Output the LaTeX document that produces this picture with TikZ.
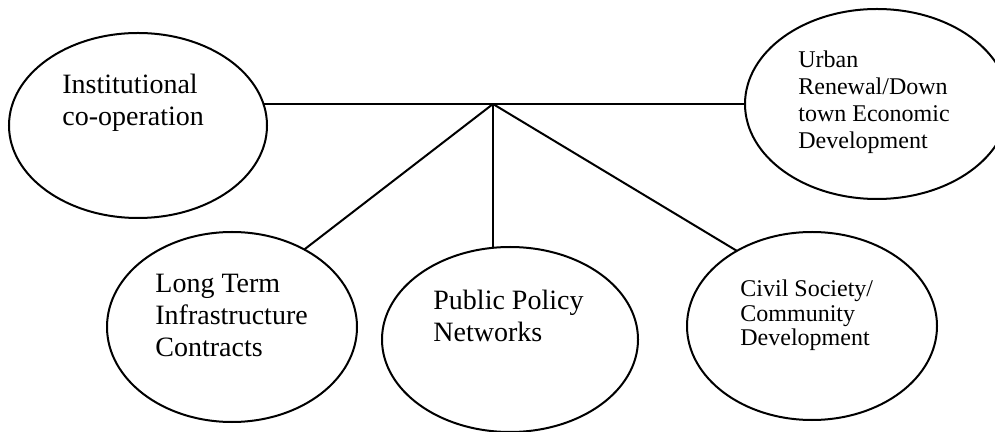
\documentclass[tikz,border=0pt]{standalone}
\usepackage{fontspec}
\setmainfont{Liberation Serif}
\usetikzlibrary{shapes.geometric}
% left-aligned multi-line label whose baseline is that of its first line
\newcommand\stacklines[1]{\begin{tabular}[t]{@{}l@{}}#1\end{tabular}}
\begin{document}
\begin{tikzpicture}[x=0.5pt,y=-0.5pt,
  bubble/.style={ellipse, draw, line width=1pt, inner sep=0pt, outer sep=0pt},
  bigtext/.style={anchor=base west, inner sep=0pt, font=\fontsize{14}{16}\selectfont},
  smalltext/.style={anchor=base west, inner sep=0pt, font=\fontsize{12}{13.5}\selectfont},
  link/.style={line width=1pt}]
\fill[white] (0,0) rectangle (995,432);
\useasboundingbox (0,0) rectangle (995,432);

% the five bubbles
\node[bubble, minimum width=129pt, minimum height=92.5pt] (inst) at (138,125.5) {};
\node[bubble, minimum width=132pt, minimum height=95pt] (urb) at (877,104) {};
\node[bubble, minimum width=125pt, minimum height=95pt] (lt) at (232,327) {};
\node[bubble, minimum width=128pt, minimum height=92.5pt] (pp) at (510,339.5) {};
\node[bubble, minimum width=125pt, minimum height=94pt] (cs) at (812,326) {};

% their labels
\node[bigtext] (instlabel) at (62,94) {\stacklines{Institutional\\co-operation}};
\node[smalltext] (urblabel) at (798,68) {\stacklines{Urban\\Renewal/Down\\town Economic\\Development}};
\node[bigtext] (ltlabel) at (155,293) {\stacklines{Long Term\\Infrastructure\\Contracts}};
\node[bigtext] (pplabel) at (433,310) {\stacklines{Public Policy\\Networks}};
\node[smalltext, font=\fontsize{12}{12.25}\selectfont] (cslabel) at (740,297) {\stacklines{Civil Society/\\Community\\Development}};

% connectors: one horizontal bar, three spokes from a hub on it
\draw[link] (urb.west) -- (urb.west -| inst.9.7);
\coordinate (hub) at (493,104);
\draw[link] (hub) -- (lt.47);
\draw[link] (hub) -- (hub |- pp.north);
\draw[link] (hub) -- (cs.135.4);
\end{tikzpicture}
\end{document}
